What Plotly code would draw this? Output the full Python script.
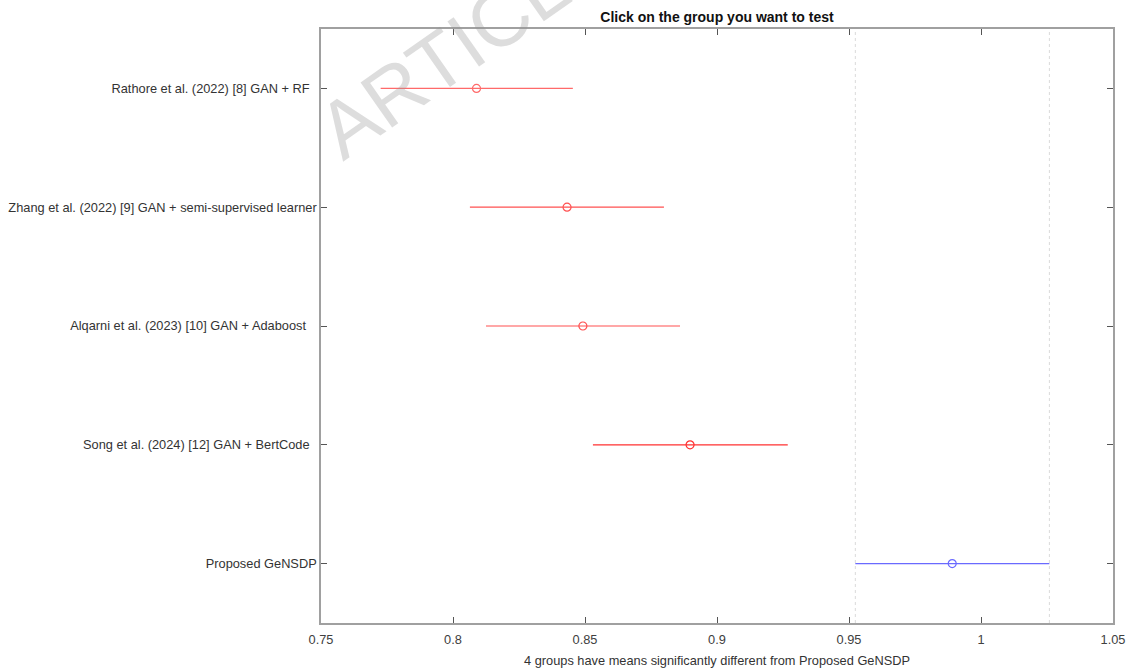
import plotly.graph_objects as go

# Group names (top to bottom), estimated means and comparison-interval bounds
groups = [
    "Rathore et al. (2022) [8] GAN + RF\u00a0\u00a0",
    "Zhang et al. (2022) [9] GAN + semi-supervised learner",
    "Alqarni et al. (2023) [10] GAN + Adaboost\u00a0\u00a0\u00a0",
    "Song et al. (2024) [12] GAN + BertCode\u00a0\u00a0",
    "Proposed GeNSDP",
]
means = [0.8089, 0.8432, 0.8492, 0.8898, 0.9891]
lower = [0.7726, 0.8064, 0.8125, 0.8530, 0.9524]
upper = [0.8454, 0.8799, 0.8860, 0.9268, 1.0259]
colors = ["#ff6a6a", "#ff5050", "#ff5050", "#ff3030", "#6a6aff"]

x_ticks = [0.75, 0.8, 0.85, 0.9, 0.95, 1.0, 1.05]
x_tick_text = ["0.75", "0.8", "0.85", "0.9", "0.95", "1", "1.05"]

font_family = "Liberation Sans, Arial, sans-serif"
fig = go.Figure()

positions = list(range(1, len(groups) + 1))
for pos, m, lo, hi, c in zip(positions, means, lower, upper, colors):
    fig.add_trace(go.Scatter(
        x=[lo, hi], y=[pos, pos], mode="lines",
        line=dict(color=c, width=1.2), hoverinfo="skip", showlegend=False,
    ))
    fig.add_trace(go.Scatter(
        x=[m], y=[pos], mode="markers",
        marker=dict(symbol="circle-open", size=8, color=c, line=dict(width=1.2)),
        showlegend=False,
    ))

# Dotted reference lines at the bounds of the selected group
for xv in (lower[-1], upper[-1]):
    fig.add_shape(type="line", xref="x", yref="paper", x0=xv, x1=xv, y0=0, y1=1,
                  line=dict(color="#dadada", width=1, dash="dot"), layer="below")

fig.add_annotation(
    text="ARTICLE IN PRESS", xref="paper", yref="paper", x=0.386, y=1.168,
    xanchor="center", yanchor="middle",
    showarrow=False, textangle=-35,
    font=dict(family=font_family, size=80, color="rgba(150,150,150,0.32)"),
)

fig.update_layout(
    width=1128, height=669,
    margin=dict(l=321, r=15, t=29, b=46, autoexpand=False),
    paper_bgcolor="white", plot_bgcolor="white",
    font=dict(family=font_family, size=12.8, color="#333333"),
    title=dict(
        text="<b>Click on the group you want to test</b>",
        x=0.5, xref="paper", xanchor="center",
        y=1 - 17 / 669, yref="container", yanchor="middle",
        font=dict(family=font_family, size=14, color="#111111"),
    ),
)
fig.update_xaxes(
    range=[0.75, 1.05], tickvals=x_ticks, ticktext=x_tick_text,
    ticks="inside", ticklen=6, tickcolor="#555555", tickwidth=1,
    showline=True, linecolor="#a0a0a0", linewidth=1.5, mirror="ticks",
    showgrid=False, zeroline=False, automargin=False, ticklabelstandoff=4,
    tickfont=dict(size=12.8, color="#404040"),
    title=dict(text="4 groups have means significantly different from Proposed GeNSDP",
               font=dict(size=12.8, color="#333333"), standoff=10),
)
fig.update_yaxes(
    range=[len(groups) + 0.5, 0.5], tickvals=positions, ticktext=groups,
    ticks="inside", ticklen=6, tickcolor="#555555", tickwidth=1,
    showline=True, linecolor="#a0a0a0", linewidth=1.5, mirror="ticks",
    showgrid=False, zeroline=False, automargin=False,
    tickfont=dict(size=12.8, color="#333333"),
)

fig.write_html("out.html")
